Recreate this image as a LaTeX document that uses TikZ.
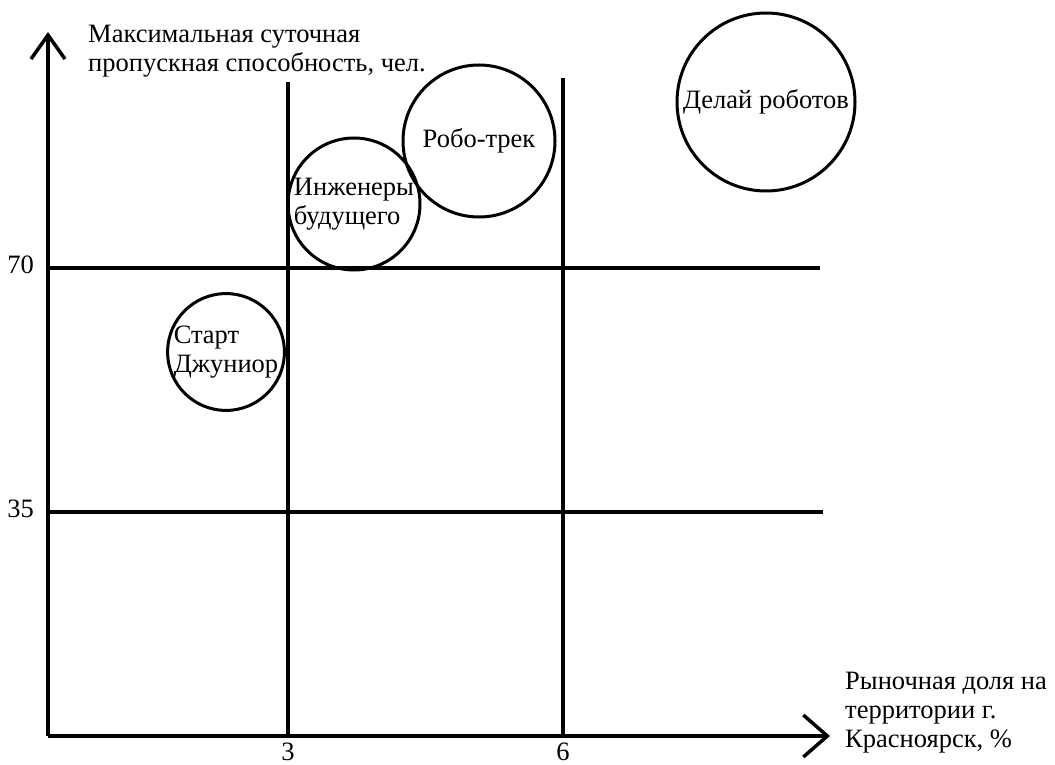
\documentclass[tikz,border=0pt]{standalone}
\usepackage{fontspec}
\setmainfont{Liberation Serif}
\usetikzlibrary{%
	arrows.meta%
}

\begin{document}
\begin{tikzpicture}[x=1pt,y=-1pt,
		font=\fontsize{26.5}{29}\selectfont,
		axis/.style={line width=3.5pt},
		gridline/.style={line width=3.5pt},
		bubble/.style={draw,circle,line width=3pt,inner sep=0pt},
		tick/.style={inner sep=0pt}
	]
	\useasboundingbox (0,0) rectangle (1055,765);
	% Axes with open arrowheads
	\coordinate (O) at (48,736);
	\coordinate (ytop) at (48,32);
	\coordinate (xend) at (830,736);
	\draw[axis,-{Straight Barb[length=24pt,width=34pt]}] (O) -- (ytop);
	\draw[axis,-{Straight Barb[length=24pt,width=42pt]}] (O) -- (xend);
	% Grid lines
	\coordinate (v3) at (288,82);
	\coordinate (v6) at (563,78);
	\coordinate (h70) at (820,268);
	\coordinate (h35) at (823,512);
	\draw[gridline] (v3) -- (v3 |- O);
	\draw[gridline] (v6) -- (v6 |- O);
	\draw[gridline] (O |- h70) -- (h70);
	\draw[gridline] (O |- h35) -- (h35);
	% Tick labels
	\node[tick,anchor=base east] (t70) at (34,273) {70};
	\node[tick,anchor=base east] (t35) at (34,517) {35};
	\node[tick,anchor=base] (t3) at (288,760) {3};
	\node[tick,anchor=base] (t6) at (563,760) {6};
	% Axis titles (base = last line)
	\node[tick,anchor=base west,align=left] (ytitle) at (88,72) {Максимальная суточная\\пропускная способность, чел.};
	\node[tick,anchor=base west,align=left] (xtitle) at (845,747) {Рыночная доля на\\территории г.\\Красноярск, \%};
	% Circles
	\node[bubble,minimum size=114pt,align=left] (start) at (226,352) {Старт\\Джуниор};
	\node[bubble,minimum size=132pt,align=left] (eng) at (354,204) {Инженеры\\будущего};
	\node[bubble,minimum size=152pt] (robo) at (479,141) {Робо-трек};
	\node[bubble,minimum size=178pt] (delai) at (766,102) {Делай роботов};
\end{tikzpicture}
\end{document}
